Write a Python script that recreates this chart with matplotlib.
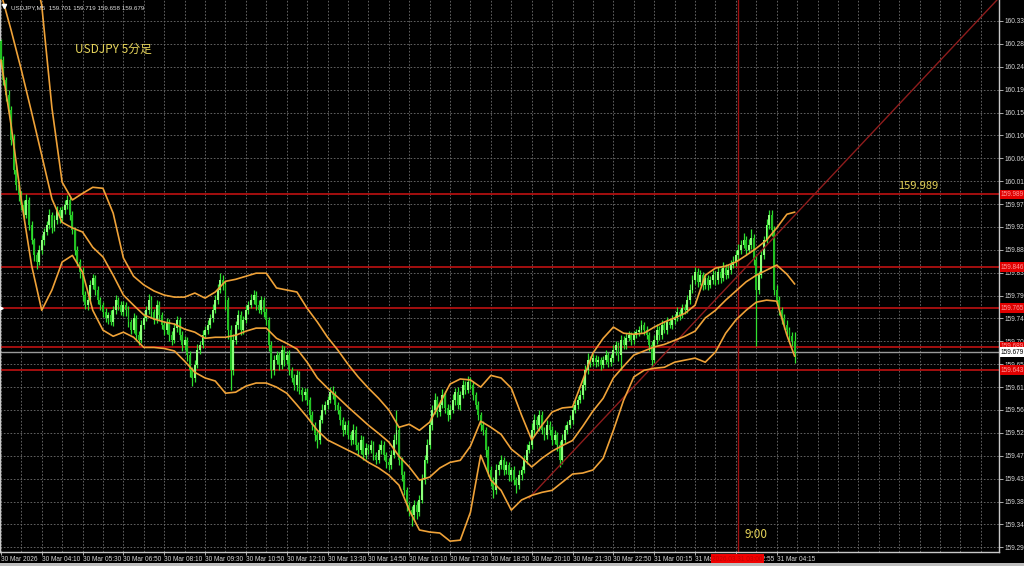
import numpy as np
import matplotlib
matplotlib.use("Agg")
from matplotlib import pyplot as plt
from matplotlib.patches import Rectangle
import matplotlib.transforms as mtransforms

plt.rcParams['font.family'] = ['Liberation Sans', 'DejaVu Sans']

# USDJPY M5 closes, one per bar (30 Mar 02:50 .. 31 Mar 04:50)
first_open = 160.290
closes = [
    160.253, 160.214, 160.185, 160.155, 160.096, 160.037, 160.007, 159.988,
    159.968, 159.948, 159.978, 159.929, 159.899, 159.870, 159.856, 159.880,
    159.899, 159.915, 159.929, 159.948, 159.923, 159.938, 159.958, 159.942,
    159.958, 159.968, 159.978, 159.948, 159.919, 159.879, 159.856, 159.836,
    159.791, 159.771, 159.781, 159.811, 159.824, 159.801, 159.781, 159.771,
    159.757, 159.746, 159.752, 159.738, 159.761, 159.781, 159.771, 159.757,
    159.771, 159.761, 159.738, 159.722, 159.746, 159.712, 159.702, 159.732,
    159.746, 159.761, 159.781, 159.757, 159.742, 159.771, 159.752, 159.732,
    159.722, 159.738, 159.712, 159.702, 159.726, 159.742, 159.712, 159.693,
    159.702, 159.673, 159.643, 159.628, 159.653, 159.683, 159.693, 159.712,
    159.722, 159.732, 159.746, 159.761, 159.781, 159.801, 159.820, 159.811,
    159.781, 159.722, 159.643, 159.702, 159.732, 159.752, 159.722, 159.742,
    159.761, 159.771, 159.781, 159.791, 159.771, 159.761, 159.781, 159.757,
    159.742, 159.693, 159.643, 159.663, 159.673, 159.653, 159.683, 159.663,
    159.673, 159.643, 159.628, 159.614, 159.634, 159.604, 159.594, 159.600,
    159.584, 159.555, 159.535, 159.516, 159.506, 159.545, 159.565, 159.575,
    159.584, 159.600, 159.594, 159.575, 159.565, 159.545, 159.525, 159.535,
    159.516, 159.506, 159.525, 159.496, 159.486, 159.506, 159.476, 159.490,
    159.486, 159.496, 159.476, 159.466, 159.486, 159.496, 159.476, 159.462,
    159.456, 159.476, 159.506, 159.525, 159.466, 159.437, 159.407, 159.378,
    159.368, 159.358, 159.378, 159.364, 159.388, 159.427, 159.466, 159.496,
    159.535, 159.565, 159.584, 159.561, 159.575, 159.594, 159.569, 159.555,
    159.565, 159.584, 159.600, 159.575, 159.594, 159.614, 159.604, 159.620,
    159.614, 159.594, 159.575, 159.555, 159.535, 159.525, 159.486, 159.447,
    159.427, 159.407, 159.447, 159.456, 159.466, 159.447, 159.456, 159.437,
    159.447, 159.427, 159.417, 159.437, 159.447, 159.466, 159.486, 159.496,
    159.525, 159.545, 159.535, 159.555, 159.525, 159.516, 159.535, 159.525,
    159.506, 159.516, 159.496, 159.466, 159.506, 159.525, 159.535, 159.545,
    159.565, 159.575, 159.584, 159.594, 159.614, 159.643, 159.663, 159.659,
    159.667, 159.659, 159.663, 159.653, 159.663, 159.673, 159.659, 159.667,
    159.683, 159.693, 159.673, 159.702, 159.693, 159.706, 159.712, 159.702,
    159.712, 159.718, 159.722, 159.732, 159.722, 159.712, 159.693, 159.663,
    159.702, 159.722, 159.712, 159.732, 159.722, 159.738, 159.732, 159.742,
    159.746, 159.757, 159.752, 159.765, 159.761, 159.781, 159.801, 159.820,
    159.836, 159.816, 159.830, 159.811, 159.824, 159.811, 159.820, 159.830,
    159.820, 159.836, 159.824, 159.844, 159.830, 159.840, 159.850, 159.856,
    159.870, 159.879, 159.889, 159.899, 159.879, 159.889, 159.903, 159.860,
    159.801, 159.830, 159.870, 159.899, 159.929, 159.948, 159.919, 159.801,
    159.781, 159.761, 159.746, 159.732, 159.722, 159.710, 159.701, 159.679,
]
# upper / lower shadows in points (0.001)
wick_up = [
    5, 8, 6, 10, 8, 12, 10, 8,   8, 10, 12, 6, 8, 5, 6, 10,
    10, 8, 8, 12, 6, 10, 8, 6,   8, 10, 10, 6, 8, 6, 8, 6,
    10, 8, 6, 10, 8, 6, 8, 6,    6, 8, 6, 10, 8, 10, 6, 8,
    8, 6, 8, 6, 10, 6, 8, 10,    10, 8, 12, 8, 6, 10, 8, 6,
    6, 8, 6, 8, 10, 8, 6, 8,     8, 6, 8, 6, 10, 12, 8, 10,
    8, 10, 8, 12, 10, 12, 14, 10, 8, 6, 10, 12, 8, 10, 8, 8,
    10, 8, 12, 10, 8, 10, 8, 6,  8, 6, 8, 10, 8, 6, 10, 8,
    8, 10, 6, 8, 10, 8, 6, 8,    8, 6, 8, 6, 8, 10, 12, 8,
    8, 10, 12, 8, 6, 8, 6, 8,    10, 8, 12, 8, 6, 10, 8, 10,
    8, 10, 8, 6, 12, 10, 8, 6,   8, 10, 12, 40, 8, 6, 8, 6,
    6, 8, 10, 8, 10, 12, 10, 12, 12, 10, 14, 8, 10, 12, 8, 8,
    10, 12, 8, 10, 8, 10, 8, 12, 10, 8, 6, 8, 6, 8, 6, 8,
    8, 6, 12, 8, 10, 6, 8, 6,    6, 8, 6, 10, 8, 10, 12, 8,
    14, 12, 8, 10, 8, 6, 10, 8,  8, 10, 6, 8, 12, 10, 8, 10,
    8, 10, 8, 10, 12, 10, 14, 8, 8, 6, 8, 6, 8, 10, 6, 8,
    10, 8, 6, 10, 8, 10, 8, 6,   8, 6, 8, 10, 6, 8, 6, 8,
    10, 12, 8, 10, 8, 10, 8, 10, 8, 10, 6, 8, 8, 10, 12, 10,
    10, 8, 10, 6, 8, 6, 8, 10,   8, 10, 8, 12, 8, 10, 10, 12,
    10, 12, 10, 15, 8, 12, 18, 8, 10, 8, 10, 8, 12, 10, 10, 8,
    10, 8, 6, 8, 10, 6, 8, 18,
]
wick_dn = [
    15, 10, 12, 8, 10, 8, 10, 12, 10, 8, 6, 10, 8, 12, 14, 6,
    8, 10, 6, 8, 10, 6, 8, 10,   6, 8, 8, 10, 8, 10, 8, 12,
    12, 8, 10, 6, 8, 10, 8, 10,  10, 8, 12, 6, 8, 8, 10, 6,
    8, 12, 10, 8, 6, 12, 10, 6,  8, 6, 8, 10, 8, 6, 10, 8,
    10, 8, 12, 10, 6, 8, 10, 12, 10, 12, 14, 16, 8, 6, 8, 6,
    6, 8, 6, 8, 6, 8, 6, 10,     20, 18, 38, 10, 8, 8, 10, 8,
    6, 8, 6, 8, 10, 6, 8, 10,    10, 12, 16, 10, 8, 10, 8, 12,
    8, 10, 8, 10, 12, 8, 12, 10, 10, 12, 10, 12, 16, 8, 6, 8,
    8, 6, 8, 10, 8, 10, 12, 8,   8, 10, 8, 10, 12, 8, 10, 8,
    8, 6, 10, 8, 6, 8, 10, 12,   10, 8, 6, 8, 10, 12, 10, 12,
    12, 22, 10, 14, 8, 6, 8, 6,  8, 10, 8, 10, 8, 6, 10, 12,
    8, 6, 10, 8, 10, 6, 8, 6,    8, 10, 8, 10, 12, 10, 14, 12,
    12, 16, 8, 10, 8, 10, 8, 12, 12, 10, 16, 8, 10, 6, 8, 6,
    8, 10, 8, 12, 8, 10, 8, 10,  10, 8, 12, 14, 8, 6, 8, 6,
    8, 6, 8, 6, 8, 10, 8, 10,    8, 10, 8, 10, 6, 8, 10, 8,
    8, 10, 12, 30, 8, 8, 6, 10,  8, 6, 8, 6, 10, 8, 12, 14,
    6, 8, 10, 8, 6, 8, 6, 8,     8, 6, 10, 6, 8, 6, 8, 6,
    8, 10, 6, 10, 8, 10, 6, 8,   10, 8, 10, 6, 8, 6, 8, 6,
    8, 10, 8, 6, 10, 6, 8, 10,   110, 8, 6, 8, 6, 8, 12, 10,
    8, 10, 12, 8, 10, 8, 10, 21,
]

# Bollinger bands (20), read every 4 bars
band_bars = list(range(0, 309, 4)) + [311]
upper = [
    160.470, 160.460, 160.479, 160.452, 160.361, 160.159, 160.013, 159.978, 159.991, 160.003,
    160.001, 159.952, 159.864, 159.828, 159.811, 159.799, 159.791, 159.787, 159.787, 159.795,
    159.785, 159.797, 159.818, 159.822, 159.828, 159.834, 159.834, 159.805, 159.801, 159.797,
    159.765, 159.738, 159.708, 159.683, 159.655, 159.630, 159.608, 159.588, 159.565, 159.531,
    159.537, 159.525, 159.541, 159.578, 159.616, 159.626, 159.624, 159.610, 159.633, 159.628,
    159.608, 159.555, 159.506, 159.535, 159.561, 159.569, 159.571, 159.624, 159.677, 159.706,
    159.728, 159.716, 159.714, 159.716, 159.728, 159.738, 159.746, 159.755, 159.771, 159.830,
    159.844, 159.848, 159.856, 159.869, 159.883, 159.899, 159.923, 159.950, 159.954,
]
middle = [
    160.385, 160.312, 160.234, 160.151, 160.066, 159.980, 159.934, 159.923, 159.915, 159.885,
    159.866, 159.830, 159.791, 159.771, 159.752, 159.744, 159.738, 159.734, 159.724, 159.718,
    159.706, 159.708, 159.708, 159.712, 159.720, 159.726, 159.726, 159.706, 159.696, 159.685,
    159.659, 159.628, 159.608, 159.590, 159.571, 159.553, 159.535, 159.519, 159.502, 159.474,
    159.453, 159.427, 159.433, 159.451, 159.462, 159.466, 159.494, 159.543, 159.531, 159.517,
    159.488, 159.472, 159.453, 159.470, 159.484, 159.495, 159.505, 159.533, 159.563, 159.588,
    159.628, 159.651, 159.673, 159.681, 159.689, 159.694, 159.702, 159.710, 159.720, 159.746,
    159.761, 159.781, 159.799, 159.817, 159.830, 159.840, 159.850, 159.832, 159.813,
]
lower = [
    160.253, 160.125, 159.978, 159.850, 159.761, 159.801, 159.856, 159.869, 159.836, 159.761,
    159.722, 159.710, 159.718, 159.708, 159.688, 159.688, 159.686, 159.681, 159.661, 159.639,
    159.628, 159.622, 159.598, 159.600, 159.612, 159.618, 159.618, 159.610, 159.598, 159.575,
    159.551, 159.525, 159.506, 159.496, 159.486, 159.476, 159.462, 159.451, 159.437, 159.417,
    159.368, 159.329, 159.325, 159.323, 159.307, 159.309, 159.364, 159.476, 159.427, 159.407,
    159.368, 159.388, 159.397, 159.403, 159.407, 159.423, 159.439, 159.441, 159.447, 159.470,
    159.525, 159.584, 159.630, 159.643, 159.647, 159.649, 159.659, 159.663, 159.667, 159.659,
    159.679, 159.716, 159.742, 159.761, 159.777, 159.781, 159.779, 159.712, 159.671,
]

levels = [159.989, 159.846, 159.765, 159.689, 159.643]
bid = 159.679
trend_bars = [207, 391]
trend_prices = [159.392, 160.375]
tokyo_open_bar = 289

tick_bars = [0, 16, 32, 48, 64, 80, 96, 112, 128, 144, 160, 176, 192, 208, 224,
             240, 256, 272, 288, 304]
tick_labels = ["30 Mar 2026", "30 Mar 04:10", "30 Mar 05:30", "30 Mar 06:50",
               "30 Mar 08:10", "30 Mar 09:30", "30 Mar 10:50", "30 Mar 12:10",
               "30 Mar 13:30", "30 Mar 14:50", "30 Mar 16:10", "30 Mar 17:30",
               "30 Mar 18:50", "30 Mar 20:10", "30 Mar 21:30", "30 Mar 22:50",
               "31 Mar 00:15", "31 Mar 01:35", "31 Mar 02:55", "31 Mar 04:15"]
price_ticks = np.round(159.295 + 0.045 * np.arange(24), 3)

# --- derived OHLC
c = np.array(closes)
o = np.array([first_open] + closes[:-1])
hi = np.maximum(o, c) + np.array(wick_up) / 1000
lo = np.minimum(o, c) - np.array(wick_dn) / 1000
bars = np.arange(len(c))

fig = plt.figure(figsize=(10.24, 5.66), dpi=100, facecolor="black")
ax = fig.add_axes([0, 14 / 566, 999 / 1024, 552 / 566])
ax.set_facecolor("black")
ax.set_xlim(-0.35, 391.1)
ax.set_ylim(159.2857, 160.3713)

grid_kw = dict(color="#707070", linestyle=(0, (2, 2)), linewidth=0.6)
for gx in range(0, 392, 8):
    ax.axvline(gx, zorder=0, **grid_kw)
for gy in price_ticks:
    ax.axhline(gy, zorder=0, **grid_kw)

for lv in levels:
    ax.axhline(lv, color="#B01010", linewidth=1.3, zorder=1)
ax.axhline(bid, color="#9A9A9A", linewidth=1.0, zorder=1)
ax.axvline(tokyo_open_bar, color="#A01010", linewidth=1.0, zorder=1)
ax.plot(trend_bars, trend_prices, color="#8E1C1C", linewidth=1.0, zorder=4)

ax.vlines(bars, lo, hi, color="#30E030", linewidth=0.9, zorder=2)
body_col = ["#8CFF7A" if cc >= oo else "#22C022" for oo, cc in zip(o, c)]
ax.bar(bars, np.maximum(np.abs(c - o), 0.002), bottom=np.minimum(o, c),
       width=0.75, color=body_col, linewidth=0, zorder=3)

for band in (upper, middle, lower):
    ax.plot(band_bars, band, color="#EFA238", linewidth=1.2, zorder=5)

# axes styling
for side in ("left", "right", "bottom"):
    ax.spines[side].set_color("#C8C8C8")
    ax.spines[side].set_linewidth(1.0)
ax.spines["top"].set_visible(False)
ax.yaxis.tick_right()
ax.set_yticks(price_ticks)
ax.set_yticklabels([f"{p:.3f}" for p in price_ticks])
ax.set_xticks(tick_bars)
ax.set_xticklabels(tick_labels, ha="left")
ax.tick_params(axis="y", colors="#C8C8C8", labelcolor="#D8D8D8", labelsize=4.7,
               length=3, width=0.6, pad=1.0)
ax.tick_params(axis="x", colors="#C8C8C8", labelcolor="#D8D8D8", labelsize=4.7,
               length=2, width=0.6, pad=1)

# right-axis price boxes
trans = mtransforms.blended_transform_factory(ax.transAxes, ax.transData)
for lv in levels:
    ax.text(1.002, lv, f"{lv:.3f}", transform=trans, ha="left", va="center",
            fontsize=4.7, color="#FF9A9A", clip_on=False, zorder=10,
            bbox=dict(facecolor="#E00000", edgecolor="none", pad=1.0))
ax.text(1.002, bid, f"{bid:.3f}", transform=trans, ha="left", va="center",
        fontsize=4.7, color="black", clip_on=False, zorder=11,
        bbox=dict(facecolor="white", edgecolor="none", pad=0.8))

# time box under the vertical line
ax.text(tokyo_open_bar - 0.3, -0.013, "2026.03.31 03:00",
        transform=mtransforms.blended_transform_factory(ax.transData, ax.transAxes),
        ha="center", va="center", fontsize=4.7, color="#C00000", clip_on=False, zorder=10,
        bbox=dict(facecolor="#F00000", edgecolor="none", pad=1.0))

# annotations
jp = ["Noto Sans CJK JP", "DejaVu Sans"]
ax.text(0.011, 0.991, "USDJPY,M5  159.701 159.719 159.658 159.679", transform=ax.transAxes,
        ha="left", va="top", fontsize=4.5, color="#E0E0E0", zorder=10)
ax.plot([0.004], [0.989], marker="v", markersize=3, color="white",
        transform=ax.transAxes, clip_on=False, zorder=10)
ax.text(0.075, 0.911, "USDJPY 5分足", transform=ax.transAxes, ha="left", va="center",
        fontsize=8.5, color="#E6D45A", family=jp, zorder=10)
ax.text(0.899, 0.663, "159.989", transform=ax.transAxes, ha="left", va="center",
        fontsize=8, color="#E6D45A", family=jp, zorder=10)
ax.text(0.7457, 0.031, "9:00", transform=ax.transAxes, ha="left", va="center",
        fontsize=8.5, color="#E6D45A", family=jp, zorder=10)
ax.plot([0.0015], [levels[2]], marker=">", markersize=2.5, color="white",
        transform=trans, clip_on=False, zorder=10)

fig.patches.append(Rectangle((0, 0), 1, 3 / 566, transform=fig.transFigure,
                             facecolor="#BEBEBE", edgecolor="none"))

fig.savefig("out.png", dpi=100, facecolor="black")
